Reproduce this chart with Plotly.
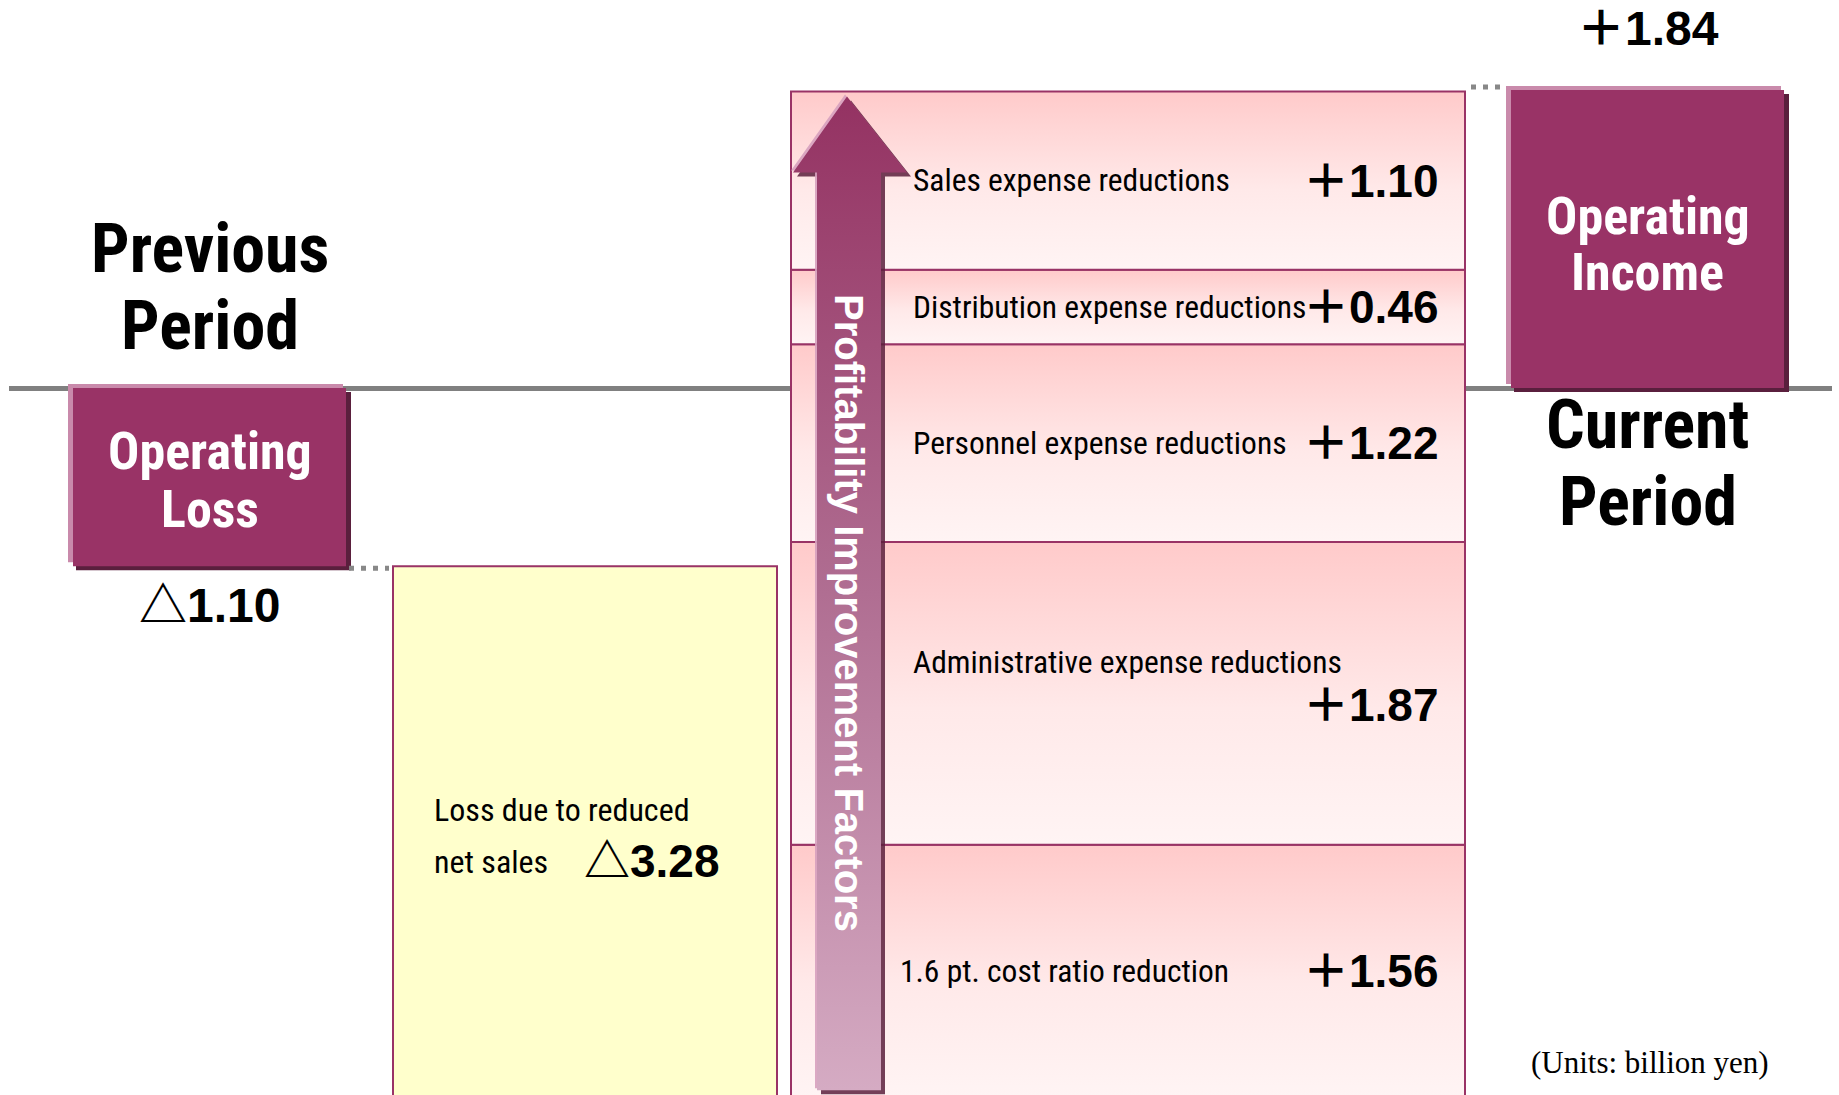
import plotly.graph_objects as go

# ---------------- data (billion yen) ----------------
prev_label = "Operating Loss"
prev_value = -1.10
sales_loss_label = ["Loss due to reduced", "net sales"]
sales_loss_value = -3.28
factor_labels = [
    "1.6 pt. cost ratio reduction",
    "Administrative expense reductions",
    "Personnel expense reductions",
    "Distribution expense reductions",
    "Sales expense reductions",
]
factor_values = [1.56, 1.87, 1.22, 0.46, 1.10]
curr_label = "Operating Income"
curr_value = 1.84
period_labels = ["Previous<br>Period", "Current<br>Period"]
arrow_label = "Profitability Improvement Factors"
units_label = "(Units: billion yen)"


def fmt(v):
    return ("\u25b3" if v < 0 else "\uff0b") + "{:.2f}".format(abs(v))


# ---------------- layout constants (pixels) ----------------
W, H = 1839, 1095
ZERO_PX = 388          # vertical pixel of the zero line
PPU = 162.0            # pixels per billion yen
Y_TOP = ZERO_PX / PPU
Y_BOT = -(H - ZERO_PX) / PPU
X_LO, X_HI = 9, 1832

X_PREV, W_PREV = 209.5, 275
X_LOSS, W_LOSS = 585, 384
X_STACK_L, X_STACK_R = 791, 1465
X_CURR, W_CURR = 1647.5, 275

MAROON = "#993366"
SHADOW = "#5a1f3d"
HILITE = "#c98aab"
NARROW = "Roboto Condensed, Liberation Sans Narrow, Arial Narrow, sans-serif"
BOLDF = "Liberation Sans, Arial, Noto Sans CJK JP, sans-serif"

fig = go.Figure()

# ---------- maroon boxes with highlight / shadow ----------
def box(xc, w, base, val):
    d = 4
    fig.add_trace(go.Bar(x=[xc - d], y=[val], base=[base + d / PPU], width=[w],
                         marker=dict(color=HILITE, line=dict(width=0)), hoverinfo="skip"))
    fig.add_trace(go.Bar(x=[xc + d], y=[val], base=[base - d / PPU], width=[w],
                         marker=dict(color=SHADOW, line=dict(width=0)), hoverinfo="skip"))
    fig.add_trace(go.Bar(x=[xc], y=[val], base=[base], width=[w - 2],
                         marker=dict(color=MAROON, line=dict(width=0)), hoverinfo="skip"))

box(X_PREV, W_PREV, 0, prev_value)
box(X_CURR, W_CURR, 0, curr_value)

# ---------- yellow loss box ----------
fig.add_trace(go.Bar(x=[X_LOSS], y=[sales_loss_value], base=[prev_value], width=[W_LOSS],
                     marker=dict(color="#ffffcc", line=dict(color=MAROON, width=2)),
                     hoverinfo="skip"))

# ---------- stacked improvement factors ----------
start = prev_value + sales_loss_value
bounds = []
b = start
for v in factor_values:
    bounds.append((b, b + v))
    b += v
stack_top = b

for (lo, hi) in bounds:
    fig.add_trace(go.Scatter(
        x=[X_STACK_L, X_STACK_R, X_STACK_R, X_STACK_L, X_STACK_L],
        y=[lo, lo, hi, hi, lo], mode="lines", fill="toself",
        fillgradient=dict(type="vertical",
                          colorscale=[[0, "#fff4f4"], [0.45, "#ffe9e9"], [1, "#ffcaca"]]),
        line=dict(color=MAROON, width=2), hoverinfo="skip"))

# ---------- dotted connectors ----------
fig.add_trace(go.Scatter(x=[X_PREV + W_PREV / 2 + 2, X_LOSS - W_LOSS / 2 - 4],
                         y=[prev_value - 2 / PPU] * 2, mode="lines",
                         line=dict(color="#888888", width=5, dash="5px,7px"), hoverinfo="skip"))
fig.add_trace(go.Scatter(x=[X_STACK_R + 6, X_CURR - W_CURR / 2 - 4],
                         y=[curr_value + 3 / PPU] * 2, mode="lines",
                         line=dict(color="#888888", width=5, dash="5px,7px"), hoverinfo="skip"))

# ---------- big arrow ----------
a_tip = stack_top - 0.03
a_base = stack_top - 0.50
a_bot = Y_BOT + 0.03
sl, sr, hl, hr, tx = 817, 881, 793, 907, 847
ax_pts = [sl, sl, hl, tx, hr, sr, sr, sl]
ay_pts = [a_bot, a_base, a_base, a_tip, a_base, a_base, a_bot, a_bot]
d = 4
fig.add_trace(go.Scatter(x=[p + d for p in ax_pts], y=[p - d / PPU for p in ay_pts],
                         mode="lines", fill="toself", fillcolor="rgba(90,30,60,0.85)",
                         line=dict(width=0), hoverinfo="skip"))
fig.add_trace(go.Scatter(x=[p - 2 for p in ax_pts], y=[p + 2 / PPU for p in ay_pts],
                         mode="lines", fill="toself", fillcolor="rgba(215,160,190,0.9)",
                         line=dict(width=0), hoverinfo="skip"))
fig.add_trace(go.Scatter(x=ax_pts, y=ay_pts, mode="lines", fill="toself",
                         fillgradient=dict(type="vertical",
                                           colorscale=[[0, "#d5abc3"], [0.5, "#b06e92"], [1, "#943262"]]),
                         line=dict(width=0), hoverinfo="skip"))

# ---------- annotations ----------
ann = []

def add(text, x, y, size, family=NARROW, color="black", xanchor="center", bold=False, angle=0):
    ann.append(dict(text=("<b>%s</b>" % text) if bold else text, x=x, y=y,
                    xref="x", yref="y", showarrow=False, xanchor=xanchor, yanchor="middle",
                    textangle=angle, font=dict(size=size, family=family, color=color)))

def py(px):
    return (ZERO_PX - px) / PPU

# period headings
prev_l = period_labels[0].split("<br>")
curr_l = period_labels[1].split("<br>")
add(prev_l[0], X_PREV, py(249), 68, bold=True)
add(prev_l[1], X_PREV, py(326), 68, bold=True)
add(curr_l[0], X_CURR, py(425), 68, bold=True)
add(curr_l[1], X_CURR, py(502), 68, bold=True)

# box labels
pl = prev_label.split(" ")
cl = curr_label.split(" ")
add(pl[0], X_PREV, py(451), 52, color="white", bold=True)
add(pl[1], X_PREV, py(509), 52, color="white", bold=True)
add(cl[0], X_CURR, py(216), 52, color="white", bold=True)
add(cl[1], X_CURR, py(272), 52, color="white", bold=True)

# values of end boxes
add(fmt(prev_value), X_PREV, prev_value - 0.24, 48, family=BOLDF, bold=True)
add(fmt(curr_value), X_CURR, curr_value + 0.38, 48, family=BOLDF, bold=True)

# yellow box text
add(sales_loss_label[0], 432, py(810), 32, xanchor="left")
add(sales_loss_label[1], 432, py(862), 32, xanchor="left")
add(fmt(sales_loss_value), 722, py(861), 46, family=BOLDF, xanchor="right", bold=True)

# factor labels
for i, (lab, v) in enumerate(zip(factor_labels, factor_values)):
    lo, hi = bounds[i]
    mid = (lo + hi) / 2
    lab_y, val_y = mid, mid
    lx = 911
    if i == 0:
        lx = 898
    if i == 1:
        lab_y = mid + 0.19
        val_y = mid - 0.07
    add(lab, lx, lab_y, 31.5, xanchor="left")
    add(fmt(v), 1441, val_y, 46, family=BOLDF, xanchor="right", bold=True)

# arrow text
add(arrow_label, tx + 2, py(613), 40, family=BOLDF, color="white", bold=True, angle=90)

# units
add(units_label, 1650, py(1062), 31, family="Liberation Serif, Times New Roman, serif")

fig.update_layout(
    width=W, height=H, margin=dict(l=X_LO, r=W - X_HI, t=0, b=0, pad=0),
    paper_bgcolor="white", plot_bgcolor="white", showlegend=False,
    barmode="overlay", annotations=ann,
    xaxis=dict(range=[X_LO, X_HI], visible=True, showgrid=False, zeroline=False,
               showticklabels=False, ticks="", showline=False, fixedrange=True),
    yaxis=dict(range=[Y_BOT, Y_TOP], showgrid=False, zeroline=True, zerolinecolor="#808080",
               zerolinewidth=5, showticklabels=False, ticks="", showline=False, fixedrange=True),
)

fig.write_html("out.html", config={"displayModeBar": False})
